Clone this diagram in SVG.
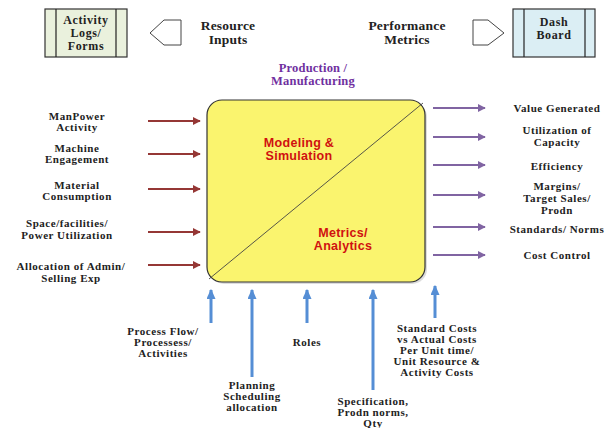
<svg xmlns="http://www.w3.org/2000/svg" width="609" height="428" viewBox="0 0 609 428">
<defs>
<marker id="mr" markerWidth="4" markerHeight="4" refX="3.6" refY="2" orient="auto" markerUnits="strokeWidth"><path d="M0,0 L4,2 L0,4 Z" fill="#953735"/></marker>
<marker id="mp" markerWidth="4" markerHeight="4" refX="3.6" refY="2" orient="auto" markerUnits="strokeWidth"><path d="M0,0 L4,2 L0,4 Z" fill="#8064A2"/></marker>
<marker id="mb" markerWidth="3.4" markerHeight="3" refX="3" refY="1.5" orient="auto" markerUnits="strokeWidth"><path d="M0,0 L3.4,1.5 L0,3 Z" fill="#558ED5"/></marker>
</defs>
<style>
.lbl{font-family:"Liberation Serif","Times New Roman",serif;font-weight:bold;font-size:11px;letter-spacing:0.55px;fill:#222;text-anchor:middle}
.hdr{font-family:"Liberation Serif","Times New Roman",serif;font-weight:bold;font-size:13.5px;letter-spacing:0.2px;fill:#222;text-anchor:middle}
.box{font-family:"Liberation Serif","Times New Roman",serif;font-weight:bold;font-size:12px;letter-spacing:0.6px;fill:#222;text-anchor:middle}
.core{font-family:"Liberation Sans",Arial,sans-serif;font-weight:bold;font-size:12.5px;letter-spacing:0.3px;fill:#D01010;text-anchor:middle}
.prod{font-family:"Liberation Serif","Times New Roman",serif;font-weight:bold;font-size:12.5px;letter-spacing:0.2px;fill:#7030A0;text-anchor:middle}
.ar{stroke:#953735;stroke-width:2;fill:none;marker-end:url(#mr)}
.ap{stroke:#8064A2;stroke-width:2;fill:none;marker-end:url(#mp)}
.ab{stroke:#558ED5;stroke-width:3;fill:none;marker-end:url(#mb)}
.pent{fill:#fff;stroke:#444;stroke-width:1}
</style>
<rect width="609" height="428" fill="#fff"/>

<g id="activity-logs">
<rect x="45" y="9" width="82" height="48" fill="#EAF1DD" stroke="#333" stroke-width="1.2"/>
<line x1="56" y1="9" x2="56" y2="57" stroke="#222" stroke-width="1.2"/>
<line x1="116" y1="9" x2="116" y2="57" stroke="#222" stroke-width="1.2"/>
<text class="box" x="86" y="24">Activity</text>
<text class="box" x="86" y="37">Logs/</text>
<text class="box" x="86" y="50">Forms</text>
</g>

<g id="resource-inputs">
<polygon class="pent" points="150,33 164,20 181,20 181,45 164,45"/>
<text class="hdr" x="228" y="30">Resource</text>
<text class="hdr" x="228" y="44">Inputs</text>
</g>

<g id="performance-metrics">
<polygon class="pent" points="473,20 488,20 504,33 488,45 473,45"/>
<text class="hdr" x="407" y="30">Performance</text>
<text class="hdr" x="407" y="44">Metrics</text>
</g>

<g id="dash-board">
<rect x="513" y="9" width="82" height="48" fill="#DBEEF4" stroke="#333" stroke-width="1.2"/>
<line x1="524" y1="9" x2="524" y2="57" stroke="#222" stroke-width="1.2"/>
<line x1="585" y1="9" x2="585" y2="57" stroke="#222" stroke-width="1.2"/>
<text class="box" x="554" y="26">Dash</text>
<text class="box" x="554" y="39">Board</text>
</g>

<g id="production-label">
<text class="prod" x="313" y="71.5">Production /</text>
<text class="prod" x="313" y="85">Manufacturing</text>
</g>

<g id="core">
<rect x="209" y="102" width="218" height="182" rx="15" fill="#bbb" opacity="0.5"/>
<rect x="207" y="100" width="218" height="182" rx="15" fill="#FAF46E" stroke="#333" stroke-width="1.2"/>
<line x1="209" y1="279" x2="423" y2="103" stroke="#444" stroke-width="0.9"/>
<text class="core" x="299" y="146.5">Modeling &amp;</text>
<text class="core" x="299" y="160">Simulation</text>
<text class="core" x="343" y="236.5">Metrics/</text>
<text class="core" x="343" y="250">Analytics</text>
</g>

<g id="connectors">
<line class="ar" x1="148" y1="121" x2="200" y2="121"/>
<line class="ar" x1="148" y1="154" x2="200" y2="154"/>
<line class="ar" x1="148" y1="189" x2="200" y2="189"/>
<line class="ar" x1="148" y1="232" x2="200" y2="232"/>
<line class="ar" x1="148" y1="265" x2="200" y2="265"/>
<line class="ap" x1="433" y1="108" x2="485" y2="108"/>
<line class="ap" x1="433" y1="137" x2="485" y2="137"/>
<line class="ap" x1="433" y1="165" x2="485" y2="165"/>
<line class="ap" x1="433" y1="195" x2="485" y2="195"/>
<line class="ap" x1="433" y1="227" x2="485" y2="227"/>
<line class="ap" x1="433" y1="255" x2="485" y2="255"/>
<line class="ab" x1="211" y1="323" x2="211" y2="290"/>
<line class="ab" x1="252" y1="377" x2="252" y2="290"/>
<line class="ab" x1="307" y1="323" x2="307" y2="290"/>
<line class="ab" x1="373" y1="390" x2="373" y2="290"/>
<line class="ab" x1="435" y1="318" x2="435" y2="286"/>
</g>

<g id="left-labels">
<text class="lbl" x="77" y="120">ManPower</text>
<text class="lbl" x="77" y="131">Activity</text>
<text class="lbl" x="77" y="152">Machine</text>
<text class="lbl" x="77" y="163">Engagement</text>
<text class="lbl" x="77" y="189">Material</text>
<text class="lbl" x="77" y="200">Consumption</text>
<text class="lbl" x="67" y="227">Space/facilities/</text>
<text class="lbl" x="67" y="239">Power Utilization</text>
<text class="lbl" x="71" y="270">Allocation of Admin/</text>
<text class="lbl" x="71" y="282">Selling Exp</text>
</g>

<g id="right-labels">
<text class="lbl" x="557" y="112">Value Generated</text>
<text class="lbl" x="557" y="134">Utilization of</text>
<text class="lbl" x="557" y="146">Capacity</text>
<text class="lbl" x="557" y="170">Efficiency</text>
<text class="lbl" x="557" y="190">Margins/</text>
<text class="lbl" x="557" y="202">Target Sales/</text>
<text class="lbl" x="557" y="214">Prodn</text>
<text class="lbl" x="557" y="233">Standards/ Norms</text>
<text class="lbl" x="557" y="259">Cost Control</text>
</g>

<g id="bottom-labels">
<text class="lbl" x="163" y="335">Process Flow/</text>
<text class="lbl" x="163" y="346">Processess/</text>
<text class="lbl" x="163" y="357">Activities</text>
<text class="lbl" x="252" y="389">Planning</text>
<text class="lbl" x="252" y="400">Scheduling</text>
<text class="lbl" x="252" y="411">allocation</text>
<text class="lbl" x="307" y="346">Roles</text>
<text class="lbl" x="373" y="405">Specification,</text>
<text class="lbl" x="373" y="416">Prodn norms,</text>
<text class="lbl" x="373" y="427">Qty</text>
<text class="lbl" x="437" y="332">Standard Costs</text>
<text class="lbl" x="437" y="343">vs Actual Costs</text>
<text class="lbl" x="437" y="354">Per Unit time/</text>
<text class="lbl" x="437" y="365">Unit Resource &amp;</text>
<text class="lbl" x="437" y="376">Activity Costs</text>
</g>
</svg>
